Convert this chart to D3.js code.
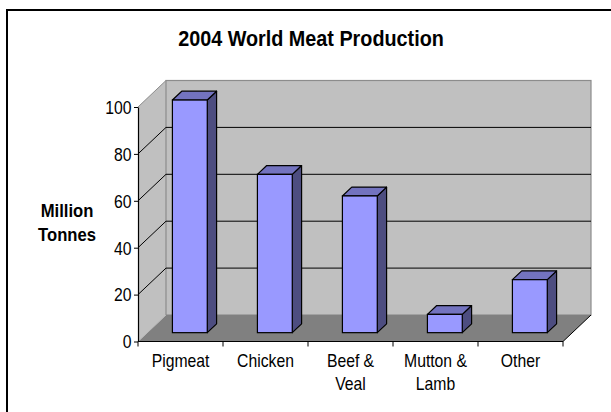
<!DOCTYPE html>
<html>
<head>
<meta charset="utf-8">
<script src="https://cdn.jsdelivr.net/npm/d3@7"></script>
<style>
  html, body { margin: 0; padding: 0; background: #fff; }
  svg { display: block; }
  text { font-family: "Liberation Sans", Arial, sans-serif; fill: #000; }
</style>
</head>
<body>
<svg id="chart" width="611" height="412"></svg>
<script>
// 2004 world meat production, million tonnes
const categories = ["Pigmeat", "Chicken", "Beef & Veal", "Mutton & Lamb", "Other"];
const categoryLines = [["Pigmeat"], ["Chicken"], ["Beef &", "Veal"], ["Mutton &", "Lamb"], ["Other"]];
const production = [99.2, 67.5, 58.3, 7.8, 22.6];
const yTicks = [0, 20, 40, 60, 80, 100];

const svg = d3.select("#chart");

// chart area frame
svg.append("rect")
  .attr("x", 7).attr("y", 10)
  .attr("width", 640).attr("height", 440)
  .attr("fill", "#fff").attr("stroke", "#000").attr("stroke-width", 2);

// front plane scales
const x = d3.scaleBand().domain(categories).range([138, 563]).paddingInner(0).paddingOuter(0);
const y = d3.scaleLinear().domain([0, 100]).range([341.5, 107]);

// depth of the 3D box
const DX = 28, DY = -26.5;
const x0 = x.range()[0], x1 = x.range()[1];
const yTop = y(100), yBase = y(0);

const pts = a => a.map(p => p.join(",")).join(" ");

// side wall
svg.append("polygon")
  .attr("points", pts([[x0, yTop], [x0 + DX, yTop + DY], [x0 + DX, yBase + DY], [x0, yBase]]))
  .attr("fill", "#c0c0c0");

// back wall
svg.append("rect")
  .attr("x", x0 + DX).attr("y", yTop + DY)
  .attr("width", x1 - x0).attr("height", yBase - yTop)
  .attr("fill", "#c0c0c0").attr("stroke", "#8c8c8c").attr("stroke-width", 1.2);

// floor
svg.append("polygon")
  .attr("points", pts([[x0, yBase], [x1, yBase], [x1 + DX, yBase + DY], [x0 + DX, yBase + DY]]))
  .attr("fill", "#808080");

// gridlines on side and back walls
const grid = svg.append("g");
yTicks.filter(t => t > 0).forEach(t => {
  const gy = y(t);
  const col = t === 100 ? "#8c8c8c" : "#000";
  grid.append("line")
    .attr("x1", x0).attr("y1", gy).attr("x2", x0 + DX).attr("y2", gy + DY)
    .attr("stroke", col).attr("stroke-width", 1);
  if (t < 100) {
    grid.append("line")
      .attr("x1", x0 + DX).attr("y1", gy + DY).attr("x2", x1 + DX).attr("y2", gy + DY)
      .attr("stroke", "#000").attr("stroke-width", 1);
  }
});

// floor edges
svg.append("line")
  .attr("x1", x0).attr("y1", yBase).attr("x2", x0 + DX).attr("y2", yBase + DY)
  .attr("stroke", "#b8b8b8").attr("stroke-width", 1);
svg.append("line")
  .attr("x1", x1).attr("y1", yBase).attr("x2", x1 + DX).attr("y2", yBase + DY)
  .attr("stroke", "#000").attr("stroke-width", 1);

// bars: occupy the middle third of the depth
const bw = x.bandwidth() * 0.41;
const fx = DX / 3, fy = DY / 3;
const bars = svg.append("g").selectAll("g").data(categories).join("g");
bars.each(function (c, i) {
  const g = d3.select(this);
  const left = x(c) + x.bandwidth() / 2 - bw / 2 + fx;
  const right = left + bw;
  const top = y(production[i]) + fy;
  const bottom = y(0) + fy;
  // side face
  g.append("polygon")
    .attr("points", pts([[right, top], [right + fx, top + fy], [right + fx, bottom + fy], [right, bottom]]))
    .attr("fill", "#4d4d80").attr("stroke", "#000").attr("stroke-width", 1.2).attr("stroke-linejoin", "round");
  // top face
  g.append("polygon")
    .attr("points", pts([[left, top], [left + fx, top + fy], [right + fx, top + fy], [right, top]]))
    .attr("fill", "#7373bf").attr("stroke", "#000").attr("stroke-width", 1.2).attr("stroke-linejoin", "round");
  // front face
  g.append("rect")
    .attr("x", left).attr("y", top).attr("width", bw).attr("height", bottom - top)
    .attr("fill", "#9999ff").attr("stroke", "#000").attr("stroke-width", 1.2);
});

// value axis
const yAxis = svg.append("g")
  .attr("transform", `translate(${x0},0)`)
  .call(d3.axisLeft(y).tickValues(yTicks).tickSize(4).tickSizeOuter(0).tickPadding(0));
yAxis.select(".domain").attr("stroke", "#000").attr("stroke-width", 1.2);
yAxis.selectAll(".tick line").attr("stroke", "#000").attr("stroke-width", 1);
yAxis.selectAll(".tick text")
  .attr("x", null).attr("dy", null)
  .attr("transform", "translate(-6.5,6.3) scale(0.9,1)")
  .attr("text-anchor", "end")
  .style("font-size", "17.5px")
  .style("font-family", "'Liberation Sans', Arial, sans-serif");

// category axis line and ticks
svg.append("line")
  .attr("x1", x0).attr("y1", yBase).attr("x2", x1).attr("y2", yBase)
  .attr("stroke", "#000").attr("stroke-width", 1.2);
const bounds = categories.map(c => x(c)).concat([x1]);
svg.append("g").selectAll("line").data(bounds).join("line")
  .attr("x1", d => d).attr("x2", d => d)
  .attr("y1", yBase).attr("y2", yBase + 5)
  .attr("stroke", "#000").attr("stroke-width", 1);

// category labels
const labels = svg.append("g").selectAll("g").data(categories).join("g");
labels.each(function (c, i) {
  const cx = x(c) + x.bandwidth() / 2;
  categoryLines[i].forEach((line, k) => {
    d3.select(this).append("text")
      .attr("transform", `translate(${cx},${366.7 + k * 23.3}) scale(0.9,1)`)
      .attr("text-anchor", "middle")
      .style("font-size", "17.5px")
      .text(line);
  });
});

// axis title
["Million", "Tonnes"].forEach((w, k) => {
  svg.append("text")
    .attr("transform", `translate(67,${217.3 + k * 23.7}) scale(0.9,1)`)
    .attr("text-anchor", "middle")
    .style("font-size", "18.5px").style("font-weight", "bold")
    .text(w);
});

// chart title
svg.append("text")
  .attr("transform", "translate(311,46) scale(0.9,1)")
  .attr("text-anchor", "middle")
  .style("font-size", "22px").style("font-weight", "bold")
  .text("2004 World Meat Production");
</script>
</body>
</html>
